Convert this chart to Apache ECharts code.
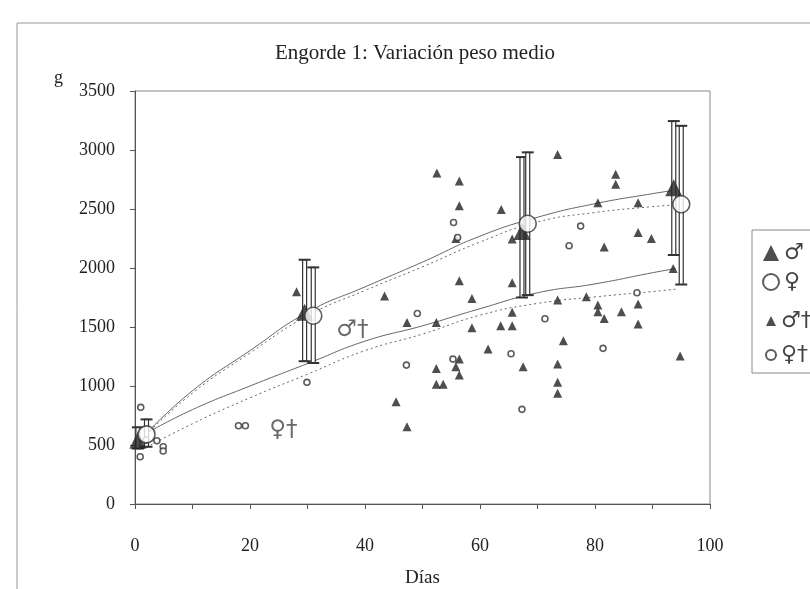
<!DOCTYPE html>
<html>
<head>
<meta charset="utf-8">
<script src="https://cdn.jsdelivr.net/npm/echarts@6/dist/echarts.min.js"></script>
<style>
  html, body { margin: 0; padding: 0; background: #fff; }
  #chart { width: 810px; height: 589px; }
</style>
</head>
<body>
<div id="chart"></div>
<script>
// medias con desviación (día, media, mínimo, máximo)
const machoDias = [0.5, 29.5, 67.3, 93.7]
const machoMedia = [540, 1625, 2310, 2680]
const machoMin = [470, 1210, 1750, 2110]
const machoMax = [650, 2070, 2940, 3245]

const hembraDias = [2, 31, 68.3, 95]
const hembraMedia = [590, 1595, 2375, 2540]
const hembraMin = [485, 1195, 1770, 1860]
const hembraMax = [717, 2005, 2980, 3205]

// animales muertos
const machoMuerto = [
  [28.1, 1798], [43.4, 1762], [45.4, 867], [47.3, 1539], [47.3, 655],
  [52.5, 2806], [52.4, 1539], [52.4, 1149], [52.4, 1014], [53.6, 1014],
  [55.8, 2250], [55.8, 1163], [56.4, 2738], [56.4, 2527], [56.4, 1891],
  [56.4, 1228], [56.4, 1093], [58.6, 1742], [58.6, 1493], [61.4, 1313],
  [63.7, 2496], [63.6, 1510], [65.6, 2245], [65.6, 1874], [65.6, 1626],
  [65.6, 1510], [67.5, 1163], [73.5, 2962], [73.5, 1728], [73.5, 1186],
  [73.5, 1031], [73.5, 938], [74.5, 1383], [78.5, 1756], [80.5, 2552],
  [80.5, 1686], [80.5, 1629], [81.6, 2179], [81.6, 1573], [83.6, 2795],
  [83.6, 2710], [84.6, 1629], [87.5, 2552], [87.5, 2301], [87.5, 1694],
  [87.5, 1525], [89.8, 2250], [93.6, 1996], [94.8, 1254]
]
const hembraMuerta = [
  [1.0, 819], [0.9, 401], [1.9, 542], [3.8, 536], [4.9, 485], [4.9, 449],
  [18.0, 663], [19.2, 663], [29.9, 1031], [47.2, 1177], [49.1, 1615],
  [55.3, 1228], [55.4, 2386], [56.1, 2259], [65.4, 1273], [67.3, 802],
  [71.3, 1570], [75.5, 2188], [77.5, 2355], [81.4, 1319], [87.3, 1790]
]

// líneas de tendencia
const tendDias = [2, 10, 20, 30, 40, 50, 60, 70, 80, 90, 94]
const tendMacho = [600, 960, 1300, 1625, 1840, 2050, 2270, 2430, 2545, 2630, 2660]
const tendHembra = [590, 940, 1280, 1595, 1810, 2010, 2220, 2390, 2470, 2520, 2535]
const tendMachoMuerto = [600, 800, 1000, 1190, 1380, 1510, 1655, 1790, 1865, 1960, 1995]
const tendHembraMuerta = [480, 680, 900, 1100, 1300, 1440, 1600, 1700, 1755, 1800, 1820]

const FONT = '"Liberation Serif", "DejaVu Serif", serif'
const SYM = '"DejaVu Sans", sans-serif'
const INK = '#222'

const zip = (xs, ys) => xs.map((x, i) => [x, ys[i]])
const zip3 = (xs, a, b) => xs.map((x, i) => [x, a[i], b[i]])

// barra de error hueca con topes
function renderError(params, api) {
  const x = api.value(0)
  const lo = api.coord([x, api.value(1)])
  const hi = api.coord([x, api.value(2)])
  const w = 4
  const cap = 6
  return {
    type: 'group',
    children: [
      { type: 'rect', shape: { x: hi[0] - w / 2, y: hi[1], width: w, height: lo[1] - hi[1] },
        style: { fill: '#fff', stroke: '#333', lineWidth: 1.2 } },
      { type: 'line', shape: { x1: hi[0] - cap, y1: hi[1], x2: hi[0] + cap, y2: hi[1] },
        style: { stroke: '#333', lineWidth: 2 } },
      { type: 'line', shape: { x1: lo[0] - cap, y1: lo[1], x2: lo[0] + cap, y2: lo[1] },
        style: { stroke: '#333', lineWidth: 2 } }
    ]
  }
}

const lineaTend = (data, dashed) => ({
  type: 'line',
  data,
  smooth: true,
  symbol: 'none',
  silent: true,
  lineStyle: { color: '#666', width: 1, type: dashed ? [2, 3] : 'solid' },
  z: 2
})

const chart = echarts.init(document.getElementById('chart'), null, { renderer: 'canvas' })

chart.setOption({
  backgroundColor: '#fff',
  animation: false,
  textStyle: { fontFamily: FONT, color: INK },
  title: {
    text: 'Engorde 1: Variación peso medio',
    left: 410,
    top: 38,
    textAlign: 'center',
    textStyle: { fontFamily: FONT, fontSize: 21, fontWeight: 'normal', color: INK }
  },
  grid: {
    left: 135, right: 100, top: 91, bottom: 85,
    outerBoundsMode: 'none',
    show: true, borderColor: '#888', borderWidth: 1, backgroundColor: '#fff'
  },
  legend: [
    {
      orient: 'vertical', left: 757, top: 237, itemGap: 7,
      itemWidth: 16, itemHeight: 16,
      textStyle: { fontSize: 22, color: '#444', fontFamily: SYM },
      data: [
        { name: '♂', icon: 'triangle' },
        { name: '♀', icon: 'circle' }
      ]
    },
    {
      orient: 'vertical', left: 760, top: 305, itemGap: 12,
      itemWidth: 10, itemHeight: 10,
      textStyle: { fontSize: 22, color: '#444', fontFamily: SYM },
      data: [
        { name: '♂†', icon: 'triangle' },
        { name: '♀†', icon: 'circle' }
      ]
    }
  ],
  xAxis: {
    type: 'value', min: 0, max: 100, interval: 20,
    name: 'Días', nameLocation: 'middle', nameGap: 65,
    nameTextStyle: { fontFamily: FONT, fontSize: 19, color: INK },
    axisLine: { lineStyle: { color: '#555' } },
    axisTick: { show: true, length: 5, lineStyle: { color: '#555' } },
    minorTick: { show: true, splitNumber: 2, length: 5, lineStyle: { color: '#555' } },
    axisLabel: { fontFamily: FONT, fontSize: 18, color: INK, margin: 33 },
    splitLine: { show: false }
  },
  yAxis: {
    type: 'value', min: 0, max: 3500, interval: 500,
    name: 'g', nameLocation: 'end', nameGap: 4,
    nameTextStyle: { fontFamily: FONT, fontSize: 18, color: INK, align: 'right', padding: [0, 72, 0, 0] },
    axisLine: { show: true, lineStyle: { color: '#555' } },
    axisTick: { show: true, length: 5, lineStyle: { color: '#555' } },
    axisLabel: { fontFamily: FONT, fontSize: 18, color: INK, margin: 20, formatter: v => String(v) },
    splitLine: { show: false }
  },
  graphic: [
    { type: 'rect', shape: { x: 17, y: 23, width: 900, height: 700 },
      style: { fill: 'none', stroke: '#999', lineWidth: 1 }, z: -10, silent: true },
    { type: 'rect', shape: { x: 752, y: 230, width: 100, height: 143 },
      style: { fill: '#fff', stroke: '#888', lineWidth: 1 }, z: -1, silent: true }
  ],
  series: [
    lineaTend(zip(tendDias, tendMacho), false),
    lineaTend(zip(tendDias, tendHembra), true),
    lineaTend(zip(tendDias, tendMachoMuerto), false),
    lineaTend(zip(tendDias, tendHembraMuerta), true),
    {
      type: 'custom', name: 'errMacho', renderItem: renderError,
      data: zip3(machoDias, machoMin, machoMax), z: 3, silent: true
    },
    {
      type: 'custom', name: 'errHembra', renderItem: renderError,
      data: zip3(hembraDias, hembraMin, hembraMax), z: 3, silent: true
    },
    {
      type: 'scatter', name: '♂†', data: machoMuerto,
      symbol: 'triangle', symbolSize: 9,
      itemStyle: { color: '#222' }, z: 4
    },
    {
      type: 'scatter', name: '♀†', data: hembraMuerta,
      symbol: 'circle', symbolSize: 6,
      itemStyle: { color: '#fff', borderColor: '#333', borderWidth: 1.6 }, z: 4
    },
    {
      type: 'scatter', name: '♂', data: zip(machoDias, machoMedia),
      symbol: 'triangle', symbolSize: 17,
      itemStyle: { color: '#222' }, z: 5
    },
    {
      type: 'scatter', name: '♀', data: zip(hembraDias, hembraMedia),
      symbol: 'circle', symbolSize: 17,
      itemStyle: { color: '#fff', borderColor: '#333', borderWidth: 1.6 }, z: 6
    },
    {
      // rótulos dentro del gráfico
      type: 'scatter', name: 'rotulos', symbolSize: 0, silent: true,
      data: [
        { value: [37.8, 1474], label: { formatter: '♂†' } },
        { value: [25.8, 627], label: { formatter: '♀†' } }
      ],
      label: {
        show: true, position: 'inside',
        fontFamily: SYM, fontSize: 23, color: '#444'
      },
      z: 4
    }
  ]
})
</script>
</body>
</html>
